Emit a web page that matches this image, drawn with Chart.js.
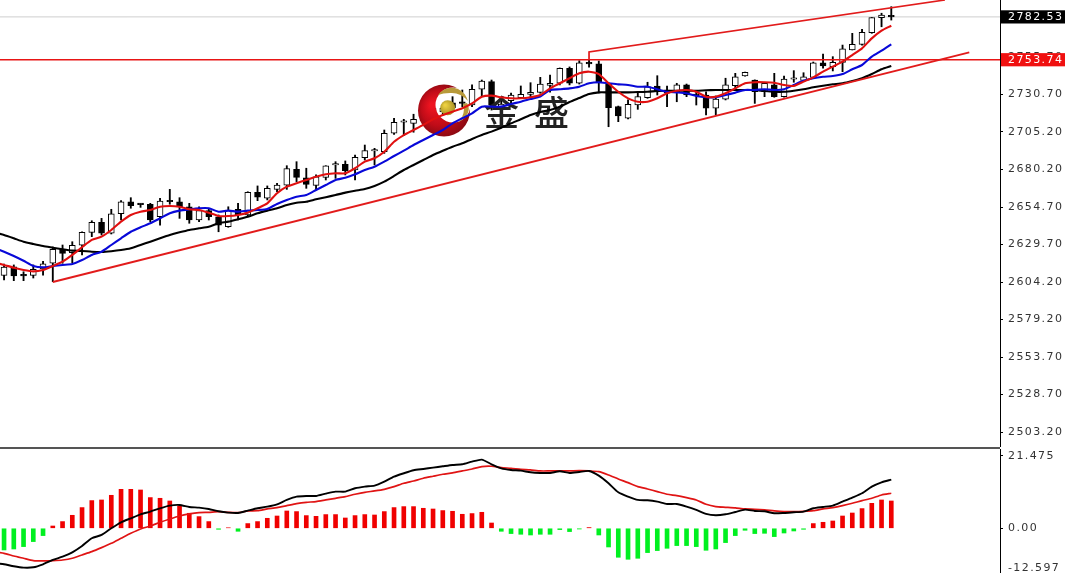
<!DOCTYPE html>
<html>
<head>
<meta charset="utf-8">
<script src="https://cdn.jsdelivr.net/npm/chart.js@4/dist/chart.umd.min.js"></script>
<style>
html,body{margin:0;padding:0;background:#fff;width:1065px;height:573px;overflow:hidden}
canvas{position:absolute;left:0;z-index:2;filter:blur(0.3px)}
#sep{position:absolute;left:0;top:447px;width:1000px;height:2px;background:#555;z-index:3}
</style>
</head>
<body>
<canvas id="main" width="1065" height="447" style="top:0"></canvas>
<div id="sep"></div>
<canvas id="macd" width="1065" height="124" style="top:449px"></canvas>
<script>
const opens=[2608.8,2614.6,2608.7,2608.8,2613.1,2616.9,2626.3,2624,2629,2637.7,2644.5,2637.1,2650.2,2658.3,2656.8,2656.6,2648.2,2658.8,2658.3,2654.9,2646,2652.3,2648.2,2641.5,2653.2,2649.4,2664.6,2660.6,
2666.6,2669.5,2680.1,2674.4,2669.3,2674.7,2683,2683.4,2679.6,2687.9,2692.4,2691.9,2704.3,2711.7,2711,2714.6,2717.9,2718.6,2724.7,2725.5,2723.3,2733.9,2739,2721.3,2726.2,2728.2,2730.5,
2731.8,2736.4,2737.9,2748,2737.9,2751.2,2750.9,2737.2,2722.2,2714.4,2723.3,2728.2,2736.1,2733.4,2732.2,2736.8,2730.5,2730,2721.1,2727.3,2736.3,2742.8,2740.1,
2732.2,2736.8,2728.9,2740.6,2739.9,2741.9,2751.7,2749.1,2752,2760.3,2764.1,2771.9,2782,2783.3];
const highs=[2616.4,2615.8,2611.2,2615.8,2618.2,2627.9,2629.2,2631.4,2638.1,2645.5,2647.1,2653.2,2659,2661,2656.9,2657.2,2660.6,2666.6,2661,2657.2,2654.9,2653.9,2649.4,2654.9,2657.2,2665,2668.9,2668.9,
2670.7,2682.5,2685.2,2680.8,2676.3,2682.5,2685.2,2685.7,2689.7,2696.4,2694.2,2706.5,2714.4,2713.7,2717.1,2721.3,2723.3,2723.3,2728.9,2733.4,2736.8,2740.1,2740.1,2726.7,2731.4,2736.1,2738.3,
2741.9,2743.5,2748.2,2748.9,2753.1,2753.6,2752.9,2738.1,2722.6,2726.7,2731.2,2738.6,2743,2736.1,2737.9,2737.4,2732.2,2732.2,2729.4,2741.3,2744.6,2745.5,2740.2,
2738.6,2744.6,2742.8,2746.4,2745,2752.2,2757.6,2755.8,2763.6,2771.5,2774.2,2782.1,2785,2789.4];
const lows=[2605.7,2605.2,2605.2,2607,2609,2604.5,2616.9,2617.3,2622.5,2634.8,2635.9,2636.6,2646,2653.9,2654.5,2644.9,2642.6,2656.6,2647.1,2643.8,2644.9,2646,2638.1,2641.1,2646,2648.2,2659,2659.5,
2665,2666.6,2671.8,2667.3,2666.2,2672.9,2674,2676.3,2672.9,2686.3,2683,2690.8,2703.6,2702.7,2705,2711.9,2714.6,2716.6,2718.6,2722.2,2722.2,2728.9,2719.9,2716.6,2724,2727.8,2728.9,
2731.2,2732,2736.8,2736.8,2737.4,2748.7,2731.4,2708.7,2712.1,2713.9,2720.4,2727.8,2730,2722.2,2725.5,2728.9,2723.3,2716.6,2716.6,2726.7,2733.4,2742.7,2724.4,
2728.9,2728.5,2728.5,2738.6,2739.4,2741.3,2748,2746.2,2745.7,2760.3,2763.6,2771.5,2775.9,2780.4];
const closes=[2614.4,2608.4,2608.4,2612.9,2616.6,2626.3,2623.6,2629,2637.7,2644.5,2637.1,2650.2,2658.3,2655.6,2656.3,2646,2658.8,2658.3,2654.9,2646,2652.3,2648.2,2642.6,2652.7,2649.4,2664.6,2661.3,2667.3,
2669.5,2680.5,2674.7,2670,2675.1,2682.5,2683.4,2679.1,2688.2,2692.6,2692.9,2704.3,2711.7,2712.1,2713.7,2718.6,2721.3,2721.1,2721.3,2724.4,2733.9,2739.4,2723.3,2724,2730,2730.5,2731.8,
2737.4,2737.8,2748,2737.9,2751.7,2750.9,2738.1,2721.5,2715.9,2723.8,2728.9,2735.6,2732.2,2731.2,2736.8,2730,2729.6,2721.1,2727.3,2736.8,2742.3,2745.3,2732.2,
2737.9,2728.9,2740.8,2741,2742.3,2751.7,2749.5,2752,2761,2764.1,2772.2,2782,2783.8,2782.53];
// moving averages: first value is the bar just off the left edge
const maRed=[2617.5,2615.8,2613.9,2612.4,2611.5,2612.4,2615.1,2618,2622.5,2627.7,2632.6,2634.8,2639.3,2644.9,2649.4,2651.6,2652.7,2654.9,2655.4,2654.9,2653.2,2652.7,2650.9,2648.7,2648.7,2649.4,2650.9,2653.9,2657.2,
2664,2668.4,2670.7,2672.9,2675.1,2676.7,2677.4,2677.4,2680.8,2685.2,2687.5,2691.9,2698.6,2703.1,2706.5,2709.9,2713.7,2716.6,2718.8,2721.1,2724.4,2728.9,2729.6,2728.5,2727.8,2727.8,2728.5,
2730,2734.5,2737.9,2741.3,2744.6,2745.7,2744.1,2737.9,2732.2,2727.8,2725.5,2725.5,2727.8,2731.2,2732.9,2733.4,2732.2,2728.9,2728.9,2731.2,2734.5,2737.9,2738.6,
2738.6,2738.3,2736.8,2736.1,2739,2741.9,2745.7,2749.1,2752.4,2756.9,2761.4,2768.1,2773.3,2776.6];
const maBlue=[2627.4,2624.7,2621.8,2618.6,2615.1,2614.2,2615.1,2615.8,2616.4,2619.1,2622.5,2624.7,2629.2,2633.7,2638.1,2641.1,2643.8,2647.1,2650.5,2652.3,2653.2,2653.9,2653.9,2651.6,2652.3,2651.6,2652.3,2652.7,2653.4,
2656.8,2659.5,2661.7,2662.8,2666.2,2669.5,2672.9,2674.4,2676.7,2679.6,2681.8,2685.2,2689,2692.6,2696.4,2699.8,2703.1,2706.5,2711,2714.4,2717.7,2722.2,2722.2,2722.2,2724,2725.5,2727.3,
2729,2733.4,2733.9,2734.5,2735.6,2737.9,2738.6,2737.9,2737.2,2736.8,2735.6,2735.6,2733.9,2732.2,2731.8,2731.2,2729.4,2728.5,2728.5,2730,2731.6,2733.4,2733.4,
2733.9,2733.4,2733.9,2736.8,2739.6,2741.3,2742.3,2742.8,2744.1,2747.3,2750.2,2755.8,2759.8,2764.1];
const maBlack=[2637.6,2635.9,2633.7,2631.4,2629.9,2628.5,2627.4,2626.3,2625.4,2625.2,2624.7,2624.5,2625,2625.8,2627,2629.2,2631.4,2633.7,2635.9,2637.7,2639.3,2640.4,2641.5,2643.8,2644.9,2646.5,2648.2,2650.5,2652.3,
2653.9,2656.1,2657.6,2658.3,2659.9,2661.3,2662.8,2664.4,2665.7,2666.8,2668.9,2671.8,2675.6,2679.6,2683,2686.3,2689.7,2692.6,2695.3,2697.6,2700.5,2703.1,2705.4,2708,2711,2713.7,2716.6,
2718.6,2719.9,2722.2,2725.3,2728,2730.7,2731.8,2731.8,2731.8,2731.8,2732,2732.2,2732.7,2732.9,2732.9,2732.9,2732.9,2733.2,2733.4,2733.4,2733.4,2733.4,2733.4,
2732.7,2732.2,2732.2,2732.9,2733.9,2735.2,2736.3,2737.2,2737.9,2739.4,2741.3,2744.1,2747.3,2749.5];
// drawn lines: [bar index, price]
const channelTop=[[60,2753.74],[60,2758.93],[96.5,2793.89]];
const channelBottom=[[5,2604.32],[99,2758.73]];
const lastPrice=2782.53, levelPrice=2753.74;
const priceTicks=[2782.53,2755.70,2753.74,2730.70,2705.20,2680.20,2654.70,2629.70,2604.20,2579.20,2553.70,2528.70,2503.20];
const histogram=[-6.44,-6.15,-5.44,-3.95,-2.17,0.68,1.99,3.86,6.15,8.23,8.41,9.8,11.58,11.58,11.38,9.12,8.91,8.11,6.62,4.46,3.47,1.99,-0.3,0.15,-0.89,1.4,1.99,2.97,3.65,5.14,4.96,3.77,3.56,4.07,4.07,3.06,
3.77,4.07,3.95,4.96,6.15,6.44,6.44,5.94,5.73,5.26,5.05,4.16,4.37,4.75,1.57,-0.89,-1.57,-1.78,-1.99,-1.78,-1.78,-0.39,-0.98,-0.21,0.21,-1.99,-5.55,-8.61,-9.21,-8.91,-7.22,-6.62,-5.94,-5.14,-5.14,-5.44,
-6.53,-6.15,-4.25,-2.17,-0.59,-1.57,-1.49,-2.47,-1.4,-0.8,-0.3,1.4,1.78,2.17,3.65,4.54,5.85,7.42,8.41,8.11];
const macdLine=[-10.3,-10.69,-11.29,-11.68,-11.58,-10.69,-9.41,-8.42,-7.13,-5.25,-2.97,-1.98,0,1.78,2.97,4.16,4.95,5.94,6.73,6.93,6.34,6.14,5.74,5.05,4.65,4.55,5.25,5.94,6.44,7.13,8.42,9.41,9.6,9.6,10.3,10.89,10.89,
11.88,12.38,12.67,13.86,15.35,16.34,17.23,17.62,18.02,18.42,18.81,19.01,19.8,20.4,19.01,17.82,17.33,17.13,16.63,16.44,16.44,16.93,16.44,16.73,17.03,15.64,13.37,10.69,9.41,8.42,8.32,7.92,7.23,7.23,6.44,5.45,
4.26,3.86,4.16,4.85,5.54,5.15,5.05,4.46,4.55,4.75,4.95,5.94,6.34,6.73,7.92,9.11,10.4,12.38,13.66,14.46];
const signalLine=[-7,-7.43,-8.22,-8.91,-9.6,-9.7,-9.6,-9.41,-8.91,-7.92,-6.93,-5.74,-4.46,-2.97,-1.49,-0.2,0.69,1.78,2.77,3.66,4.26,4.65,4.75,4.95,4.75,4.65,5.15,5.25,5.74,6.14,6.73,7.33,7.72,7.92,8.42,8.91,9.41,
10.1,10.69,11.09,11.58,12.38,13.37,14.06,14.85,15.45,16.04,16.44,17.03,17.62,18.32,18.42,18.02,17.82,17.52,17.33,17.03,17.03,17.03,17.03,17.13,17.03,16.83,15.84,14.65,13.56,12.38,11.68,10.89,10.1,9.7,9.11,8.42,
7.13,6.44,6.24,6.04,5.74,5.64,5.45,5.15,4.95,4.95,5.05,5.25,5.74,6.14,6.73,7.43,8.22,8.91,9.9,10.4];
// the terminal insets its bottom scale label from the panel edge
const macdTicks=[21.475,0,-11.95];
const macdTickLabels=["21.475","0.00","-12.597"];
const logoText=["金","盛"];

const FONT={family:'"DejaVu Sans"',size:11};
const TEXT='#333';
const spacing={id:'spacing',beforeDraw(c){c.ctx.letterSpacing='1.4px';}};

function drawLogo(ctx){
 ctx.save();
 ctx.letterSpacing='0px';
 // crescent
 ctx.save();
 ctx.beginPath();ctx.rect(400,70,90,80);ctx.arc(453,105,17.5,0,Math.PI*2);ctx.clip('evenodd');
 const g=ctx.createRadialGradient(432,105,2,444,110.5,30);
 g.addColorStop(0,'#ee1420');g.addColorStop(0.55,'#c00c18');g.addColorStop(1,'#7c0810');
 ctx.fillStyle=g;ctx.beginPath();ctx.arc(444,110.5,26,0,Math.PI*2);ctx.fill();
 ctx.restore();
 // gold swooshes
 ctx.fillStyle='#b89a3a';
 ctx.fill(new Path2D('M438,95 Q446,85 458,89 Q465,92 468,101 Q460,92 450,93 Q443,93 438,95Z'));
 ctx.fill(new Path2D('M467,103 Q473,113 459,122 Q466,113 463,104Z'));
 // ball
 const b=ctx.createRadialGradient(445,105,1,447.7,107.7,9);
 b.addColorStop(0,'#ecd040');b.addColorStop(1,'#a08a20');
 ctx.fillStyle=b;ctx.beginPath();ctx.arc(447.7,107.7,7.5,0,Math.PI*2);ctx.fill();
 // wordmark
 ctx.fillStyle='#222';ctx.textBaseline='alphabetic';ctx.textAlign='left';
 ctx.font='500 35px "Noto Sans CJK SC"';
 ctx.fillText(logoText[0],484,126);
 ctx.fillText(logoText[1],534,126);
 ctx.restore();
}
// the logo sits over the candles and under the moving averages
const logoPlugin={id:'logo',afterDatasetDraw(c,args){if(args.index===5)drawLogo(c.ctx);}};

const xScale={type:'linear',display:false,min:-0.415,max:102.15,offset:false,grid:{display:false}};
const line=(d,color,w,t)=>({type:'line',data:d,borderColor:color,borderWidth:w,pointRadius:0,tension:t,fill:false,order:1,clip:true});
const series=a=>a.map((v,k)=>({x:k-1,y:v}));
const idx=closes.map((_,i)=>i);
const up=idx.filter(i=>closes[i]>=opens[i]), dn=idx.filter(i=>closes[i]<opens[i]);
const body=(ids,fill,ord)=>({type:'bar',grouped:false,data:ids.map(i=>({x:i,y:[opens[i],closes[i]]})),backgroundColor:fill,borderColor:'#000',borderWidth:1,borderSkipped:false,barThickness:6,minBarLength:1.5,order:ord});
const fitAxis=s=>{s.width=65;s.paddingTop=0;s.paddingBottom=0;s.paddingLeft=0;s.paddingRight=0;};

Chart.defaults.animation=false;
new Chart(document.getElementById('main'),{
 type:'bar',
 plugins:[spacing,logoPlugin],
 data:{datasets:[
  line(channelTop.map(p=>({x:p[0],y:p[1]})),'#e21b1b',1.7,0),
  line(channelBottom.map(p=>({x:p[0],y:p[1]})),'#e21b1b',1.9,0),
  line(series(maRed),'#e01010',2.1,0.2),
  line(series(maBlue),'#0808d8',2.1,0.2),
  line(series(maBlack),'#000',2.1,0.2),
  {...line([{x:-1,y:levelPrice},{x:103,y:levelPrice}],'#e81515',1.7,0),order:2},
  {...line([{x:-1,y:lastPrice},{x:103,y:lastPrice}],'#cfcfcf',1,0),order:9},
  body(up,'#fff',3),
  body(dn,'#000',3),
  {type:'bar',grouped:false,data:idx.map(i=>({x:i,y:[lows[i],highs[i]]})),backgroundColor:'#000',barThickness:1.2,order:5}
 ]},
 options:{responsive:false,animation:false,maintainAspectRatio:false,layout:{padding:0,autoPadding:false},
  plugins:{legend:{display:false},tooltip:{enabled:false}},
  scales:{
   x:xScale,
   y:{position:'right',min:2493.41,max:2793.89,
    afterFit:fitAxis,
    afterBuildTicks(s){s.ticks=priceTicks.map(v=>({value:v}));},
    border:{display:true,color:'#000',width:1},
    grid:{drawOnChartArea:false,tickLength:3,tickWidth:1,tickColor:c=>c.tick.value===levelPrice?'#e81515':c.tick.value===lastPrice?'#bbb':'#000'},
    ticks:{autoSkip:false,padding:5,font:FONT,maxRotation:0,
     color:c=>(c.tick.value===levelPrice||c.tick.value===lastPrice)?'#fff':TEXT,
     callback:v=>v.toFixed(2),
     showLabelBackdrop:c=>c.tick.value===levelPrice||c.tick.value===lastPrice,
     backdropColor:c=>c.tick.value===levelPrice?'#f01010':'#000',
     backdropPadding:{left:7,right:20,top:0,bottom:0}}
   }
  }}
});
new Chart(document.getElementById('macd'),{
 type:'bar',
 plugins:[spacing],
 data:{datasets:[
  line(series(macdLine),'#000',1.9,0.2),
  line(series(signalLine),'#e01414',1.7,0.2),
  {type:'bar',grouped:false,data:histogram.map((v,i)=>({x:i,y:v})),backgroundColor:histogram.map(v=>v>=0?'#f00000':'#00f020'),barThickness:4,order:3}
 ]},
 options:{responsive:false,animation:false,maintainAspectRatio:false,layout:{padding:0,autoPadding:false},
  plugins:{legend:{display:false},tooltip:{enabled:false}},
  scales:{
   x:xScale,
   y:{position:'right',min:-13.28,max:23.55,
    afterFit:fitAxis,
    afterBuildTicks(s){s.ticks=macdTicks.map(v=>({value:v}));},
    border:{display:true,color:'#000',width:1},
    grid:{drawOnChartArea:false,tickLength:3,tickWidth:1,tickColor:c=>c.tick.value===macdTicks[2]?'transparent':'#000'},
    ticks:{autoSkip:false,padding:5,font:FONT,color:TEXT,maxRotation:0,
     callback:v=>macdTickLabels[macdTicks.indexOf(v)]}
   }
  }}
});
</script>
</body>
</html>
